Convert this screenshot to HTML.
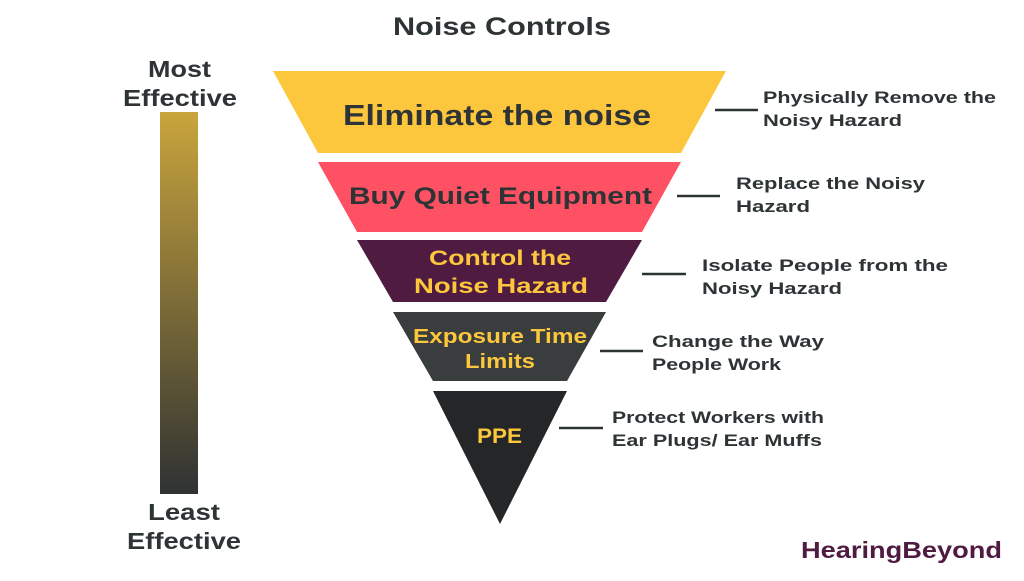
<!DOCTYPE html>
<html><head><meta charset="utf-8"><style>
body{margin:0;width:1024px;height:576px;background:#fff;overflow:hidden;font-family:"Liberation Sans","DejaVu Sans",sans-serif}
</style></head><body>
<svg width="1024" height="576" viewBox="0 0 1024 576" xmlns="http://www.w3.org/2000/svg" font-family="Liberation Sans, DejaVu Sans, sans-serif" font-weight="bold">
<defs><linearGradient id="g" x1="0" y1="0" x2="0" y2="1"><stop offset="0" stop-color="#c9a53c"/><stop offset="1" stop-color="#2f3233"/></linearGradient></defs>
<text x="393" y="35" font-size="25" fill="#2e3436" textLength="218" lengthAdjust="spacingAndGlyphs">Noise Controls</text>
<text x="148" y="77" font-size="23" fill="#2e3436" textLength="63" lengthAdjust="spacingAndGlyphs">Most</text>
<text x="123" y="106" font-size="23" fill="#2e3436" textLength="114" lengthAdjust="spacingAndGlyphs">Effective</text>
<rect x="160" y="112" width="38" height="382" fill="url(#g)"/>
<text x="148" y="520" font-size="23" fill="#2e3436" textLength="72" lengthAdjust="spacingAndGlyphs">Least</text>
<text x="127" y="549" font-size="23" fill="#2e3436" textLength="114" lengthAdjust="spacingAndGlyphs">Effective</text>
<polygon points="273,71 726,71 681,153 318,153" fill="#fdc73d"/>
<text x="343" y="125" font-size="29" fill="#2e3436" textLength="308" lengthAdjust="spacingAndGlyphs">Eliminate the noise</text>
<polygon points="318,162 681,162 642,232 357,232" fill="#fe5163"/>
<text x="349" y="204" font-size="24" fill="#2e3436" textLength="303" lengthAdjust="spacingAndGlyphs">Buy Quiet Equipment</text>
<polygon points="357,240 642,240 606,302 393,302" fill="#4f1b40"/>
<text x="429" y="265" font-size="21" fill="#fdc73d" textLength="142" lengthAdjust="spacingAndGlyphs">Control the</text>
<text x="414" y="293" font-size="21" fill="#fdc73d" textLength="174" lengthAdjust="spacingAndGlyphs">Noise Hazard</text>
<polygon points="393,312 606,312 567,381 433,381" fill="#3a3d3e"/>
<text x="413" y="343" font-size="20" fill="#fdc73d" textLength="174" lengthAdjust="spacingAndGlyphs">Exposure Time</text>
<text x="465" y="368" font-size="20" fill="#fdc73d" textLength="70" lengthAdjust="spacingAndGlyphs">Limits</text>
<polygon points="433,391 567,391 500,524" fill="#242627"/>
<text x="477" y="443" font-size="21" fill="#fdc73d" textLength="45" lengthAdjust="spacingAndGlyphs">PPE</text>
<g stroke="#2e3436" stroke-width="2.5">
<line x1="715" y1="110" x2="758" y2="110"/>
<line x1="677" y1="196" x2="720" y2="196"/>
<line x1="642" y1="274" x2="686" y2="274"/>
<line x1="600" y1="351" x2="643" y2="351"/>
<line x1="559" y1="428" x2="603" y2="428"/>
</g>
<g font-size="17" fill="#2e3436" lengthAdjust="spacingAndGlyphs">
<text x="763" y="103" textLength="233" lengthAdjust="spacingAndGlyphs">Physically Remove the</text><text x="763" y="126" textLength="139" lengthAdjust="spacingAndGlyphs">Noisy Hazard</text>
<text x="736" y="189" textLength="189" lengthAdjust="spacingAndGlyphs">Replace the Noisy</text><text x="736" y="212" textLength="74" lengthAdjust="spacingAndGlyphs">Hazard</text>
<text x="702" y="271" textLength="246" lengthAdjust="spacingAndGlyphs">Isolate People from the</text><text x="702" y="294" textLength="140" lengthAdjust="spacingAndGlyphs">Noisy Hazard</text>
<text x="652" y="347" textLength="172" lengthAdjust="spacingAndGlyphs">Change the Way</text><text x="652" y="370" textLength="129" lengthAdjust="spacingAndGlyphs">People Work</text>
<text x="612" y="423" textLength="212" lengthAdjust="spacingAndGlyphs">Protect Workers with</text><text x="612" y="446" textLength="210" lengthAdjust="spacingAndGlyphs">Ear Plugs/ Ear Muffs</text>
</g>
<text x="801" y="558" font-size="23" fill="#4f1b40" textLength="201" lengthAdjust="spacingAndGlyphs">HearingBeyond</text>
</svg>
</body></html>
